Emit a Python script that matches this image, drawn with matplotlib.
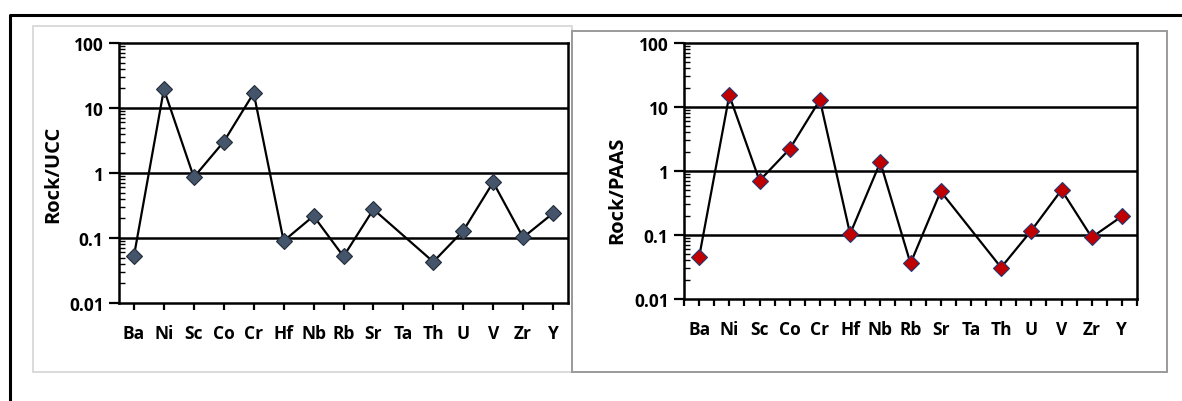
import numpy as np
import matplotlib
matplotlib.use('Agg')
from matplotlib import pyplot as plt
from matplotlib.lines import Line2D
from matplotlib.patches import Rectangle
from matplotlib.ticker import FixedLocator, NullFormatter

plt.rcParams['font.family'] = ['Open Sans', 'DejaVu Sans']
plt.rcParams['font.weight'] = 'bold'

# elements, Ta has no value in either series
elements = ['Ba', 'Ni', 'Sc', 'Co', 'Cr', 'Hf', 'Nb', 'Rb', 'Sr', 'Ta', 'Th', 'U', 'V', 'Zr', 'Y']
rock_ucc = [0.053, 19.4, 0.86, 3.03, 17.0, 0.090, 0.218, 0.052, 0.276, None, 0.043, 0.129, 0.72, 0.102, 0.24]
rock_paas = [0.045, 15.2, 0.706, 2.21, 12.9, 0.104, 1.37, 0.036, 0.48, None, 0.031, 0.117, 0.505, 0.092, 0.196]
ytick_vals = [0.01, 0.1, 1, 10, 100]
ytick_labels = ['0.01', '0.1', '1', '10', '100']

W, H = 1182, 402
fig = plt.figure(figsize=(W / 100, H / 100), dpi=100)

# panel frames and outer border
fig.patches.append(Rectangle((33 / W, 1 - 373 / H), (572 - 33) / W, (373 - 27) / H,
                             transform=fig.transFigure, fill=False, ec='#d4d4d4', lw=1.2))
fig.patches.append(Rectangle((572 / W, 1 - 373 / H), (1167 - 572) / W, (373 - 32) / H,
                             transform=fig.transFigure, fill=False, ec='#9a9a9a', lw=1.4))
fig.lines.append(Line2D([10 / W, 10 / W, 1.01], [-0.01, 1 - 16 / H, 1 - 16 / H],
                        transform=fig.transFigure, color='black', lw=2.2))


def draw(rect, vals, ylabel, fc, ec, half_ticks, ylabel_y):
    ax = fig.add_axes(rect)
    x = np.arange(len(elements))
    pts = [(i, v) for i, v in zip(x, vals) if v is not None]
    px = [p[0] for p in pts]
    py = [p[1] for p in pts]
    ax.plot(px, py, color='black', lw=1.6, zorder=3)
    ax.plot(px, py, ls='none', marker='D', ms=8.2, mfc=fc, mec=ec, mew=0.8, zorder=4)
    ax.set_yscale('log')
    ax.set_ylim(0.01, 100)
    ax.set_xlim(-0.5, len(elements) - 0.5)
    ax.yaxis.set_major_locator(FixedLocator(ytick_vals))
    ax.set_yticklabels(ytick_labels)
    ax.yaxis.set_minor_formatter(NullFormatter())
    for v in ytick_vals[1:-1]:
        ax.axhline(v, color='black', lw=1.8, zorder=2)
    ax.tick_params(axis='y', which='major', direction='out', length=7, width=1.6,
                   labelsize=12.5, pad=4)
    ax.tick_params(axis='y', which='minor', direction='in', length=4, width=1.0)
    ax.set_xticks(x)
    ax.set_xticklabels(elements)
    if half_ticks:
        ax.xaxis.set_minor_locator(FixedLocator(np.arange(-0.5, len(elements), 1.0)))
    ax.tick_params(axis='x', which='both', direction='out', length=5, width=1.6,
                   labelsize=12.5, pad=10)
    for s in ax.spines.values():
        s.set_linewidth(1.8)
        s.set_color('black')
    ax.set_ylabel(ylabel, fontsize=14.5, fontweight='bold')
    ax.yaxis.set_label_coords(-0.125, ylabel_y)
    return ax


draw([119 / W, 1 - 304 / H, 449 / W, 260 / H], rock_ucc, 'Rock/UCC',
     '#44546A', '#222b38', False, 0.5)
draw([684 / W, 1 - 300 / H, 453 / W, 256 / H], rock_paas, 'Rock/PAAS',
     '#C00000', '#1F3A73', True, 0.43)

fig.savefig('out.png', dpi=100)
